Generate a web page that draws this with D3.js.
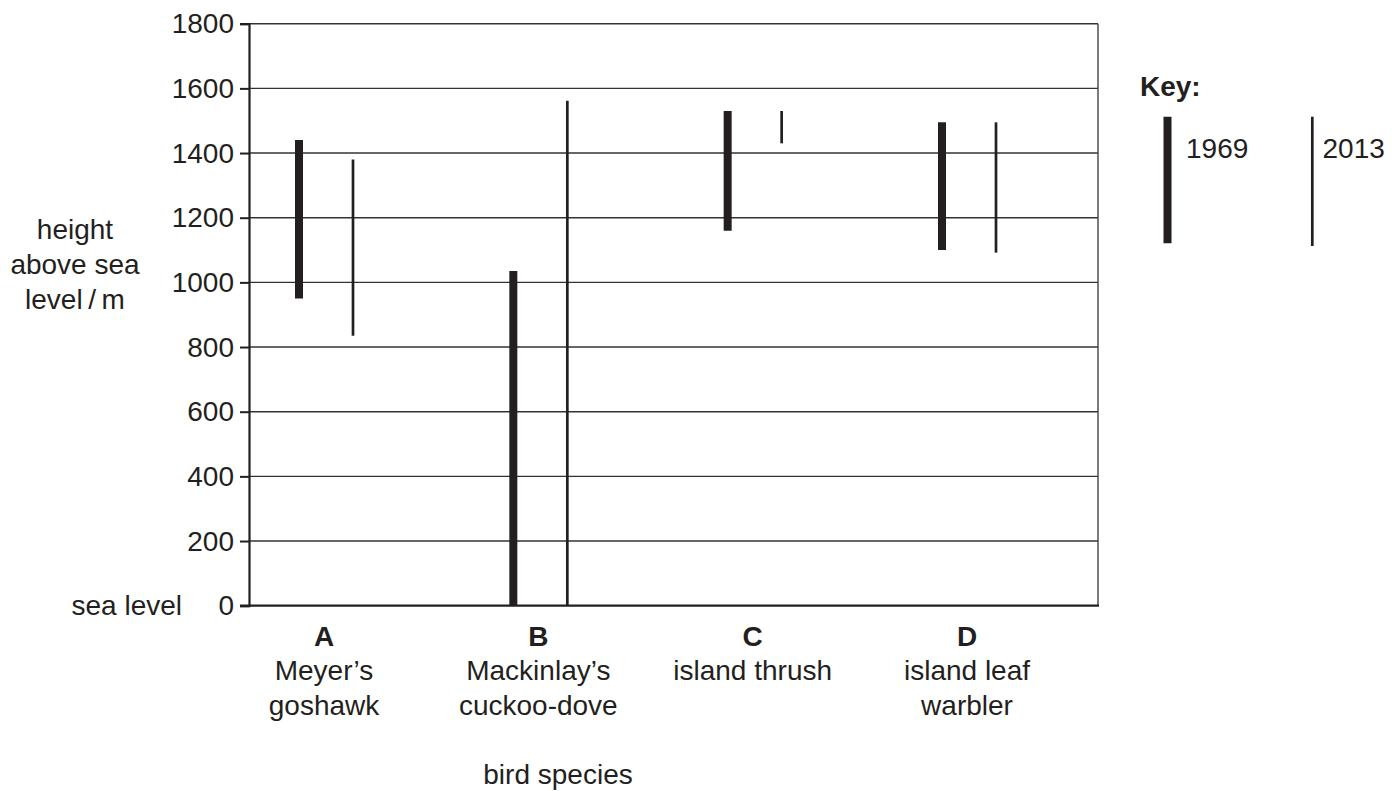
<!DOCTYPE html>
<html>
<head>
<meta charset="utf-8">
<script src="https://cdn.jsdelivr.net/npm/d3@7"></script>
<style>
  html, body { margin: 0; padding: 0; background: #fff; }
  svg { display: block; font-family: Arial, "Liberation Sans", Helvetica, sans-serif; }
  text { fill: #231f20; }
</style>
</head>
<body>
<svg id="chart" width="1392" height="791"></svg>
<script>
// ---- data ----
const categories = ["A", "B", "C", "D"];
const speciesNames = [["Meyer\u2019s", "goshawk"], ["Mackinlay\u2019s", "cuckoo-dove"], ["island thrush"], ["island leaf", "warbler"]];
const range1969Low  = [950, 0, 1160, 1100];
const range1969High = [1440, 1035, 1530, 1495];
const range2013Low  = [835, 0, 1430, 1092];
const range2013High = [1380, 1562, 1530, 1495];
const yTicks = [0, 200, 400, 600, 800, 1000, 1200, 1400, 1600, 1800];
const yAxisLabel = ["height", "above sea", "level\u2009/\u2009m"];
const xAxisLabel = "bird species";
const seaLevelLabel = "sea level";
const keyTitle = "Key:";
const years = ["1969", "2013"];

// ---- layout ----
(function () {
const ink = "#231f20";
const plotL = 249, plotR = 1098, plotT = 23.7, plotB = 605.7;
const fs = 28;

const svg = d3.select("#chart");
const y = d3.scaleLinear().domain([0, 1800]).range([plotB, plotT]);
const x = d3.scalePoint().domain(categories).range([326, 969]);
const offset = 27;

// gridlines
svg.append("g").selectAll("line").data(yTicks.filter(d => d > 0)).join("line")
  .attr("x1", plotL).attr("x2", plotR)
  .attr("y1", d => y(d)).attr("y2", d => y(d))
  .attr("stroke", "#333").attr("stroke-width", 1.4);

// right border
svg.append("line").attr("x1", plotR).attr("x2", plotR).attr("y1", plotT).attr("y2", plotB)
  .attr("stroke", "#444").attr("stroke-width", 1.4);

// y axis
const yAxis = d3.axisLeft(y).tickValues(yTicks).tickSize(9).tickPadding(6).tickFormat(d3.format("d"));
const gy = svg.append("g").attr("transform", `translate(${plotL},0)`).call(yAxis);
gy.select(".domain").attr("stroke", ink).attr("stroke-width", 2.2);
gy.selectAll(".tick line").attr("stroke", ink).attr("stroke-width", 2);
gy.selectAll(".tick text").attr("font-size", fs).attr("fill", ink)
  .attr("font-family", "Arial, 'Liberation Sans', sans-serif");

// bottom axis line
svg.append("line").attr("x1", 240).attr("x2", plotR + 1).attr("y1", plotB).attr("y2", plotB)
  .attr("stroke", ink).attr("stroke-width", 2.2);

// 1969 bars (thick)
svg.append("g").selectAll("line").data(categories).join("line")
  .attr("x1", d => x(d) - offset).attr("x2", d => x(d) - offset)
  .attr("y1", (d, i) => y(range1969Low[i])).attr("y2", (d, i) => y(range1969High[i]))
  .attr("stroke", ink).attr("stroke-width", 8);

// 2013 bars (thin)
svg.append("g").selectAll("line").data(categories).join("line")
  .attr("x1", d => x(d) + offset).attr("x2", d => x(d) + offset)
  .attr("y1", (d, i) => y(range2013Low[i])).attr("y2", (d, i) => y(range2013High[i]))
  .attr("stroke", ink).attr("stroke-width", 2.7);

// category labels
const cat = svg.append("g").selectAll("g").data(categories).join("g");
cat.append("text").attr("x", d => x(d) - 2).attr("y", 645.5)
  .attr("text-anchor", "middle").attr("font-size", fs).attr("font-weight", "bold").text(d => d);
cat.each(function(d, i) {
  const g = d3.select(this);
  speciesNames[i].forEach((s, j) => {
    g.append("text").attr("x", x(d) - 2).attr("y", 680 + j * 35)
      .attr("text-anchor", "middle").attr("font-size", fs).text(s);
  });
});

// axis titles
yAxisLabel.forEach((s, j) => {
  svg.append("text").attr("x", 75).attr("y", 239 + j * 35)
    .attr("text-anchor", "middle").attr("font-size", fs).text(s);
});
svg.append("text").attr("x", 182).attr("y", 615).attr("text-anchor", "end")
  .attr("font-size", fs).text(seaLevelLabel);
svg.append("text").attr("x", 558).attr("y", 784).attr("text-anchor", "middle")
  .attr("font-size", fs).text(xAxisLabel);

// key
svg.append("text").attr("x", 1140).attr("y", 95.5).attr("font-size", fs).attr("font-weight", "bold").text(keyTitle);
svg.append("line").attr("x1", 1167.5).attr("x2", 1167.5).attr("y1", 116.7).attr("y2", 243.3)
  .attr("stroke", ink).attr("stroke-width", 8);
svg.append("line").attr("x1", 1312.3).attr("x2", 1312.3).attr("y1", 116.7).attr("y2", 246)
  .attr("stroke", ink).attr("stroke-width", 2.7);
svg.append("text").attr("x", 1186).attr("y", 158.3).attr("font-size", fs).text(years[0]);
svg.append("text").attr("x", 1322.5).attr("y", 158.3).attr("font-size", fs).text(years[1]);
})();
</script>
</body>
</html>
